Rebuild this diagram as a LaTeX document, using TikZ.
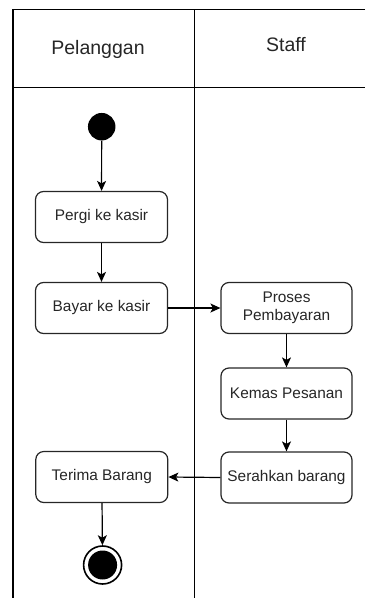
\documentclass[tikz,border=0pt]{standalone}
\usepackage{fontspec}
\setmainfont{Liberation Sans}
\usetikzlibrary{arrows.meta}
\tikzset{
  lane/.style={line width=1.6pt, black},
  act/.style={draw=black!85, line width=1.2pt, rounded corners=8pt, minimum width=132pt, minimum height=51pt, align=center, text=black!85, font=\fontsize{15.4}{18.5}\selectfont, inner sep=0pt},
  hdr/.style={text=black!85, font=\fontsize{19.5}{23}\selectfont, inner sep=0pt},
  flow/.style={line width=1.2pt, black, -{Stealth[length=10pt,width=9pt,inset=2.5pt]}},
  startnode/.style={circle, fill=black, minimum size=27.5pt, inner sep=0pt},
}
\begin{document}
\begin{tikzpicture}[x=1pt,y=-1pt]
\useasboundingbox (0,0) rectangle (365,598);
% swimlane table
\draw[lane] (365,9.5) -- (13,9.5) -- (13,598);
\draw[lane] (194.5,9.5) -- (194.5,598);
\draw[lane] (13,87.5) -- (365,87.5);
\node[hdr] (hp) at (98,49) {Pelanggan};
\node[hdr] (hs) at (286,45) {Staff};
% nodes
\node[startnode] (start) at (101.7,126.7) {};
\node[act] (pergi) at (101.5,217) {Pergi ke kasir};
\node[act] (bayar) at (101.5,308) {Bayar ke kasir};
\node[act, minimum width=131pt] (proses) at (286.5,308) {Proses\\Pembayaran};
\node[act, minimum width=131pt] (kemas) at (286.5,393.5) {Kemas Pesanan};
\node[act, minimum width=131pt] (serah) at (286.5,477.5) {Serahkan barang};
\node[act] (terima) at (101.8,477) {Terima Barang};
\node[circle, draw=black, line width=1.6pt, minimum size=38pt, inner sep=0pt] (end) at (102.6,565) {};
\node[circle, fill=black, minimum size=29pt, inner sep=0pt] (endin) at (102.6,565) {};
% connectors
\draw[flow] (start) -- (pergi);
\draw[flow] (pergi) -- (bayar);
\draw[flow] (bayar) -- (proses);
\draw[flow] (proses) -- (kemas);
\draw[flow] (kemas) -- (serah);
\draw[flow] (serah.west) -- (terima.east);
\draw[flow] (terima) -- (end);
\end{tikzpicture}
\end{document}
